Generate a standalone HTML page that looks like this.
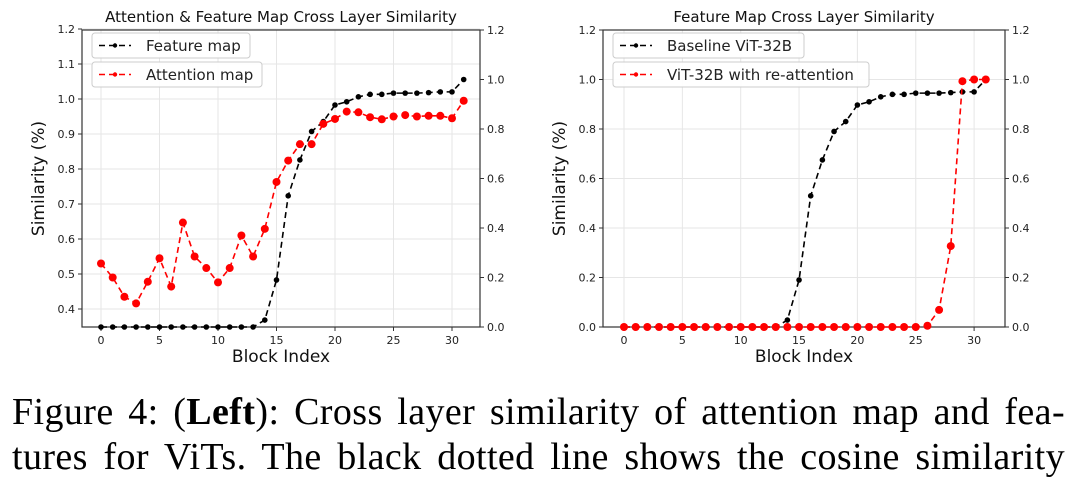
<!DOCTYPE html>
<html><head><meta charset="utf-8"><style>
body{margin:0;background:#fff;position:relative;width:1080px;height:487px;overflow:hidden;}
svg{display:block;font-family:"DejaVu Sans","Liberation Sans",sans-serif;}
.cap{position:absolute;left:12px;width:1053px;font-family:"Liberation Serif","Times New Roman",Times,serif;font-size:38px;letter-spacing:0.4px;line-height:45px;color:#000;text-align:justify;text-align-last:justify;}
</style></head><body>
<svg id="fig" width="1080" height="487" viewBox="0 0 1080 487">
<g id="left"></g>
<g id="right"></g>
</svg>
<div class="cap" style="top:390px;">Figure 4: (<b>Left</b>): Cross layer similarity of attention map and fea-</div>
<div class="cap" style="top:435px;">tures for ViTs. The black dotted line shows the cosine similarity</div>
<script>
const blocks = Array.from({length:32},(_,i)=>i);
const featureMap = [0,0,0,0,0,0,0,0,0,0,0,0,0,0,0.028,0.19,0.53,0.675,0.79,0.83,0.897,0.91,0.93,0.94,0.94,0.945,0.945,0.945,0.947,0.95,0.95,1.0];
const attentionMap = [0.53,0.49,0.435,0.416,0.478,0.545,0.464,0.647,0.55,0.517,0.476,0.517,0.61,0.55,0.629,0.763,0.824,0.871,0.871,0.929,0.943,0.964,0.962,0.948,0.942,0.95,0.954,0.95,0.952,0.952,0.945,0.995];
const reAttention = [0,0,0,0,0,0,0,0,0,0,0,0,0,0,0,0,0,0,0,0,0,0,0,0,0,0,0.005,0.069,0.327,0.993,1.0,1.0];
const xTicks = [0,5,10,15,20,25,30];
const leftTicksA = [0.4,0.5,0.6,0.7,0.8,0.9,1.0,1.1,1.2];
const ticks01 = [0.0,0.2,0.4,0.6,0.8,1.0,1.2];

const NS='http://www.w3.org/2000/svg';
function mk(parent,tag,attrs,txt){const e=document.createElementNS(NS,tag);for(const k in attrs)e.setAttribute(k,attrs[k]);if(txt!=null)e.textContent=txt;parent.appendChild(e);return e;}

function chart(g,cfg){
  const L=cfg.L,R=cfg.R,T=30,B=327;
  const x=v=>cfg.x0+v*cfg.dx;
  const yL=cfg.yL, yR=v=>B-v*247.5;
  xTicks.forEach(t=>{const l=mk(g,'line',{x1:x(t),x2:x(t),y1:T,y2:B,stroke:'#e6e6e6','stroke-width':1});
    
    });
  cfg.lTicks.forEach(t=>{const l=mk(g,'line',{x1:L,x2:R,y1:yL(t),y2:yL(t),stroke:'#e6e6e6','stroke-width':1});
    
    });
  const f=mk(g,'rect',{x:L,y:T,width:R-L,height:B-T,fill:'none',stroke:'#333','stroke-width':1.2});
  
  
  xTicks.forEach(t=>{mk(g,'line',{x1:x(t),x2:x(t),y1:B,y2:B+4,stroke:'#333'});
    const tx=mk(g,'text',{x:x(t),y:B+17,'font-size':11,'text-anchor':'middle',fill:'#222'},String(t));
    
    });
  cfg.lTicks.forEach(t=>{mk(g,'line',{x1:L-4,x2:L,y1:yL(t),y2:yL(t),stroke:'#333'});
    const tx=mk(g,'text',{x:L-7,y:yL(t)+4,'font-size':11,'text-anchor':'end',fill:'#222'},t.toFixed(1));
    
    });
  ticks01.forEach(t=>{mk(g,'line',{x1:R,x2:R+4,y1:yR(t),y2:yR(t),stroke:'#333'});
    const tx=mk(g,'text',{x:R+7,y:yR(t)+4,'font-size':11,fill:'#222'},t.toFixed(1));
    
    });
  const xt=mk(g,'text',{x:(L+R)/2,y:362,'font-size':17,'text-anchor':'middle',fill:'#111'},'Block Index');
  
  
  const yt=mk(g,'text',{x:0,y:0,'font-size':17,'text-anchor':'middle',fill:'#111',transform:`translate(${L-38},${(T+B)/2}) rotate(-90)`},'Similarity (%)');
  
  
  const ti=mk(g,'text',{x:(L+R)/2,y:22,'font-size':15,'text-anchor':'middle',fill:'#111'},cfg.title);
  
  
  cfg.series.forEach(s=>{
    const pts=s.data.map((v,i)=>x(blocks[i])+','+s.y(v)).join(' ');
    const pl=mk(g,'polyline',{points:pts,fill:'none',stroke:s.color,'stroke-width':1.6,'stroke-dasharray':'6,4'});
    
    
    s.data.forEach((v,i)=>{const c=mk(g,'circle',{cx:x(blocks[i]),cy:s.y(v),r:s.r,fill:s.color});
      
      });
  });
  cfg.legend.forEach((lg,k)=>{
    const y0=33+k*29;
    const lgG=mk(g,'g',{});
    
    
    mk(lgG,'rect',{x:L+10,y:y0,width:lg.w,height:25,rx:3,fill:'#fff','fill-opacity':0.9,stroke:'#ccc'});
    mk(lgG,'line',{x1:L+17,x2:L+49,y1:y0+12.5,y2:y0+12.5,stroke:lg.color,'stroke-width':1.6,'stroke-dasharray':'6,4'});
    mk(lgG,'circle',{cx:L+33,cy:y0+12.5,r:2.2,fill:lg.color});
    mk(lgG,'text',{x:L+64,y:y0+18,'font-size':15,fill:'#222'},lg.label);
  });
}

const yLA=v=>309-(v-0.4)*350;
const yR01=v=>327-v*247.5;
chart(document.getElementById('left'),{L:82,R:480,x0:101,dx:11.7,yL:yLA,lTicks:leftTicksA,
  title:'Attention & Feature Map Cross Layer Similarity',
  series:[{name:'feature-map',data:featureMap,y:yR01,color:'#000',r:2.8},
          {name:'attention-map',data:attentionMap,y:yLA,color:'#f00',r:4}],
  legend:[{label:'Feature map',color:'#000',w:158},{label:'Attention map',color:'#f00',w:170}]});
chart(document.getElementById('right'),{L:603,R:1005,x0:624,dx:11.67,yL:yR01,lTicks:ticks01,
  title:'Feature Map Cross Layer Similarity',
  series:[{name:'baseline-vit',data:featureMap,y:yR01,color:'#000',r:2.8},
          {name:'re-attention-vit',data:reAttention,y:yR01,color:'#f00',r:4}],
  legend:[{label:'Baseline ViT-32B',color:'#000',w:191},{label:'ViT-32B with re-attention',color:'#f00',w:256}]});
</script>
</body></html>
